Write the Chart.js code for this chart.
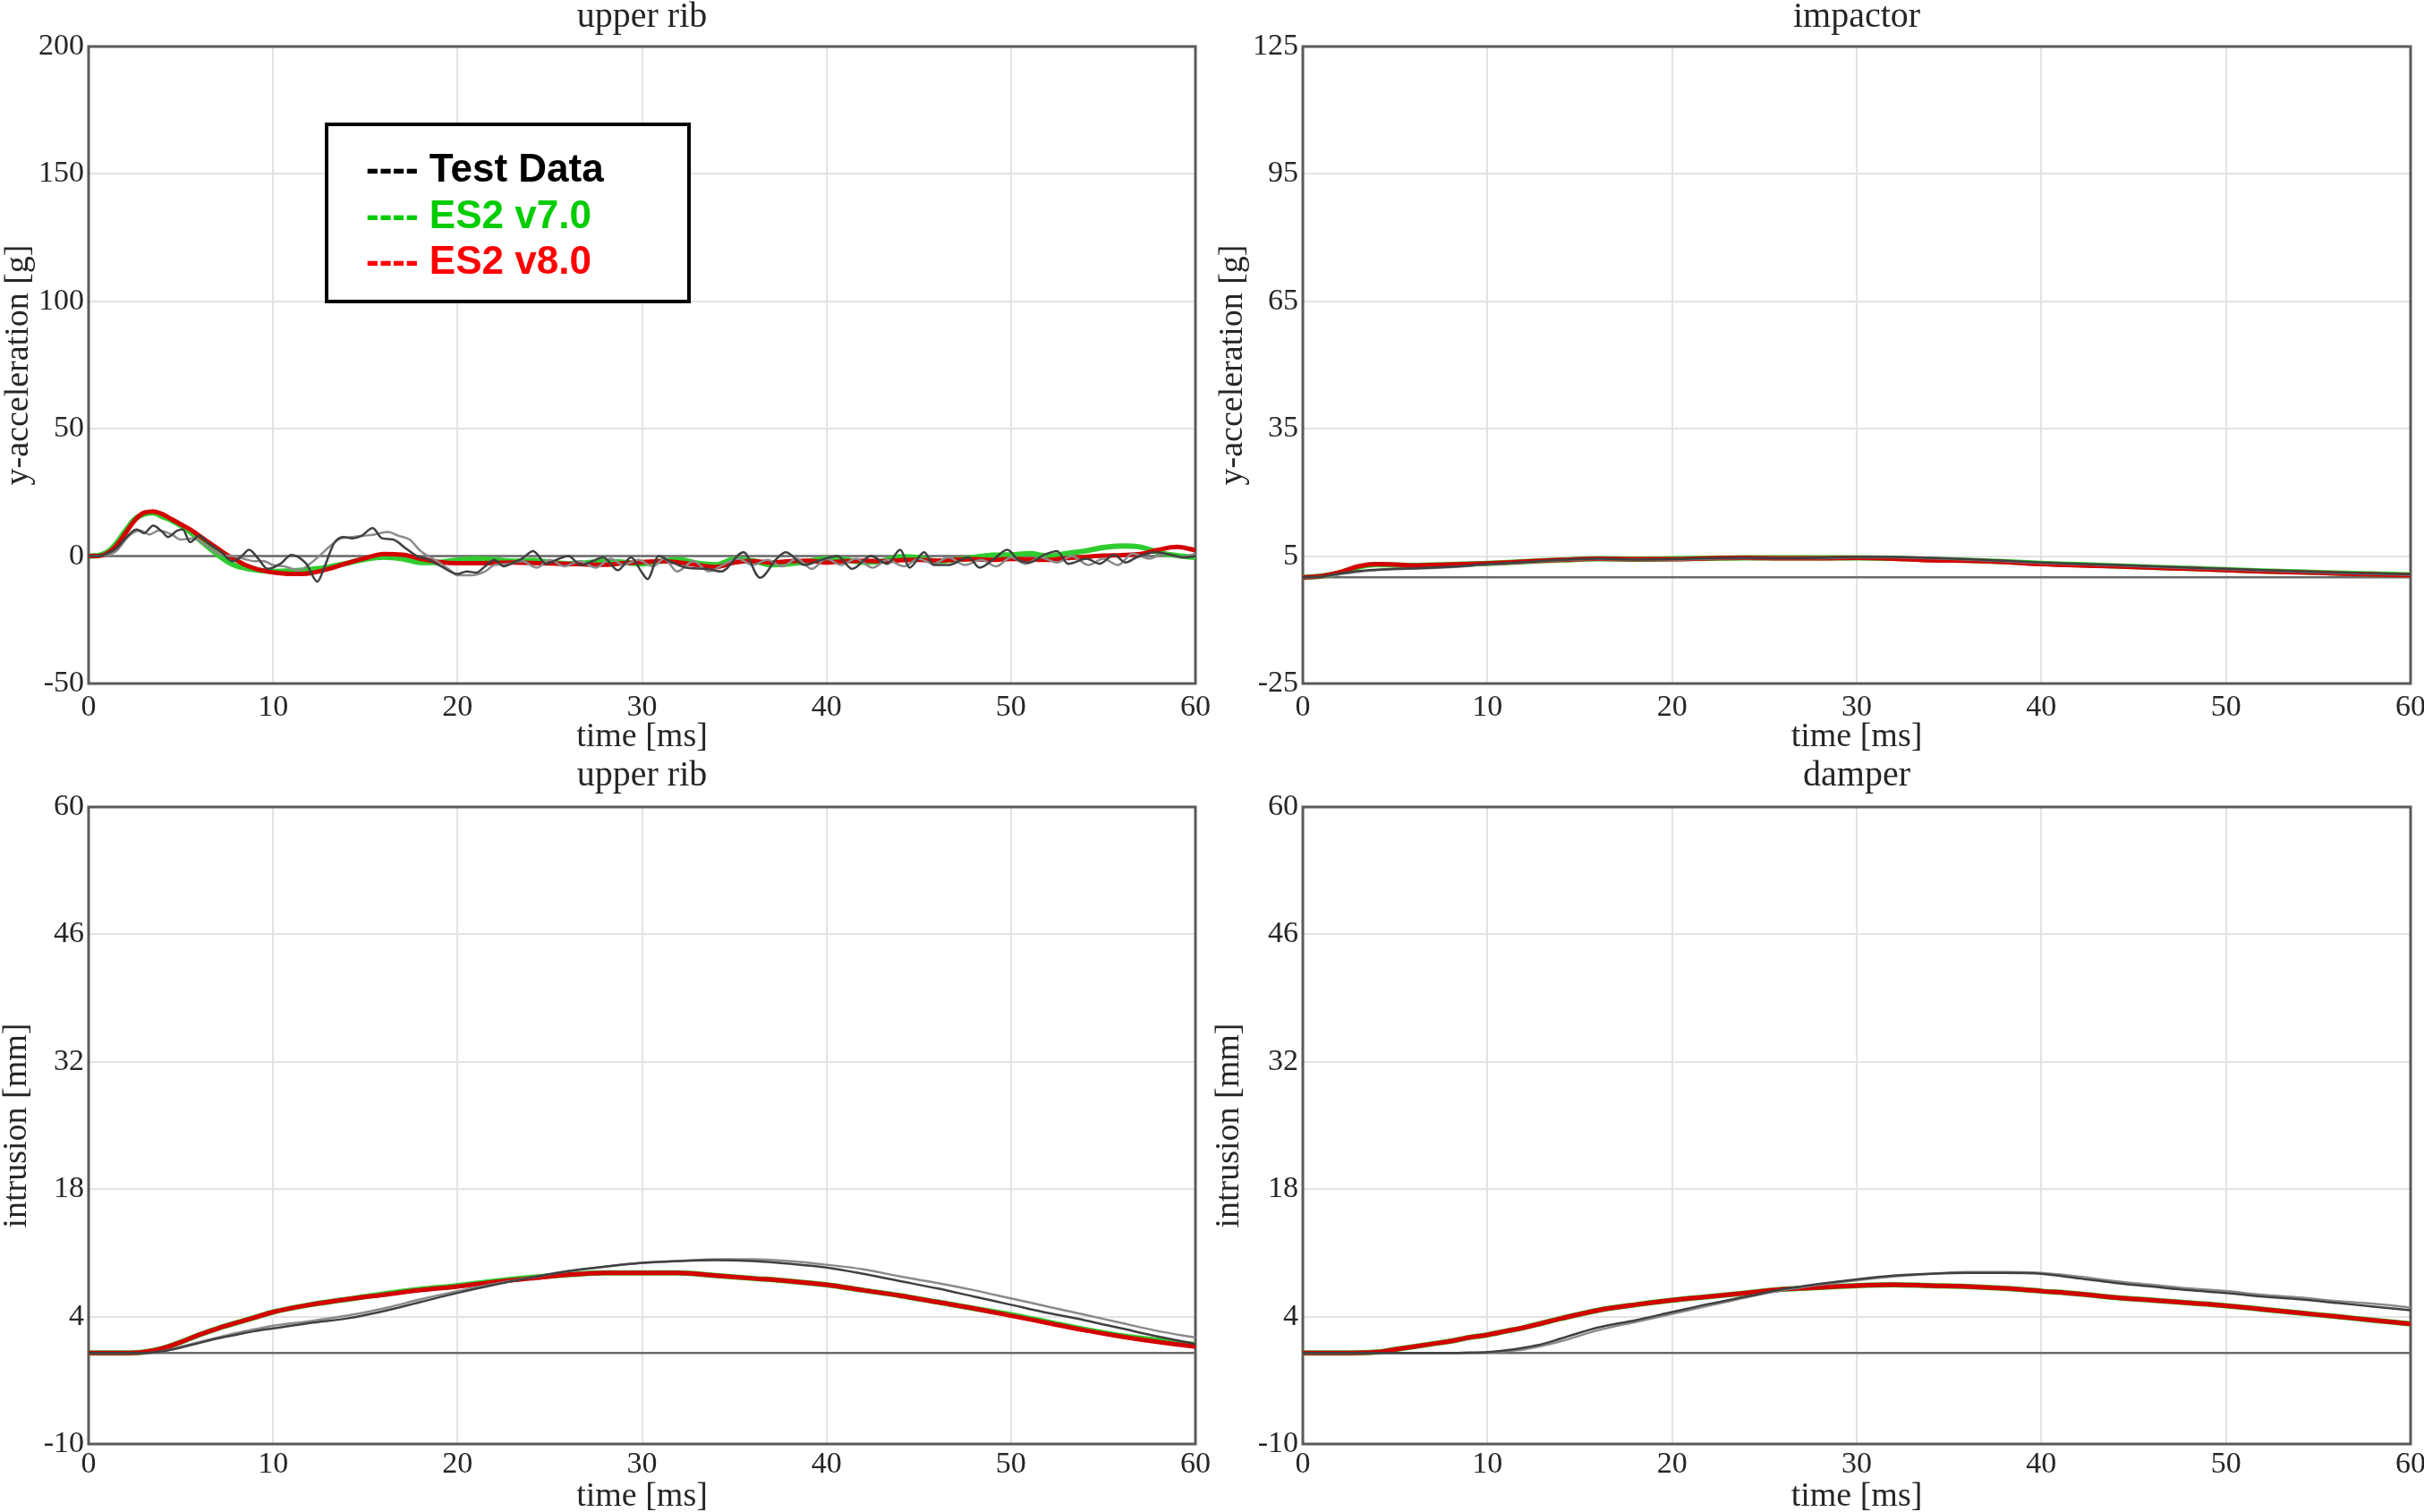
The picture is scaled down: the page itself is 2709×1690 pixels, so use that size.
<!DOCTYPE html>
<html>
<head>
<meta charset="utf-8">
<script src="https://cdn.jsdelivr.net/npm/chart.js@4.4.1/dist/chart.umd.min.js"></script>
<style>
html, body { margin: 0; padding: 0; background: #ffffff; }
body { width: 2709px; height: 1690px; position: relative; overflow: hidden; }
canvas { position: absolute; }
</style>
</head>
<body>
<canvas id="pTL" width="1354" height="845" style="left:0px;top:0px"></canvas>
<canvas id="pTR" width="1355" height="845" style="left:1354px;top:0px"></canvas>
<canvas id="pBL" width="1354" height="845" style="left:0px;top:845px"></canvas>
<canvas id="pBR" width="1355" height="845" style="left:1354px;top:845px"></canvas>
<script>
// ---------------- DATA ----------------
const legendNames = ['Test Data', 'ES2 v7.0', 'ES2 v8.0'];
const xTicks = [0, 10, 20, 30, 40, 50, 60];
const yTicksAcc = [-50, 0, 50, 100, 150, 200];
const yTicksImp = [-25, 5, 35, 65, 95, 125];
const yTicksIntr = [-10, 4, 18, 32, 46, 60];
const zeroT = [0, 60];
const zeroV = [0, 0];

// upper rib acceleration (top-left)
const ribAccT = [0,0.5,1,1.5,2,2.5,3,3.5,4,4.5,5,5.5,6,6.5,7,7.5,8,8.5,9,9.5,10,11,12,13,14,15,16,17,18,19,20,21,22,23,24,25,26,27,28,29,30,31,32,33,34,35,36,37,38,39,40,41,42,43,44,45,46,47,48,49,50,51,52,53,54,55,56,57,58,59,60];
const ribAccV8 = [0,0,1,4,9,14,17,17.5,16.5,14.5,12.5,10.5,8,5.5,3,0.5,-1.5,-3.5,-4.8,-5.7,-6.4,-7,-6.7,-5,-2.8,-0.8,0.8,0.6,-1,-2.3,-2.8,-2.8,-2.7,-2.5,-2.7,-2.9,-3,-3.3,-3.4,-2.8,-2.3,-2,-2.5,-3.5,-4.3,-2.5,-2,-2.5,-2,-1.8,-2.5,-2,-1.8,-2,-1.6,-1.5,-1.8,-1.4,-1.2,-1.5,-1.1,-1.3,-1.5,-0.8,-0.3,0.2,0.4,0.8,2.5,3.6,2.3];
const ribAccV7 = [0,0.2,1.5,5,10,14.5,16.5,17,15.5,14,12,9.5,6.5,3.5,0.5,-2,-3.8,-4.7,-5.3,-5.8,-6,-5.8,-5.2,-4.3,-2.8,-1.2,-0.4,-1,-2.5,-2.4,-1.5,-1,-1.4,-2,-1.6,-2.4,-3,-2.6,-2,-2.4,-3,-2,-1.4,-2.8,-3.4,-1.2,-1.8,-3.4,-3,-2,-1,-1.4,-2.4,-2,-0.2,-0.6,-2,-1.4,-0.5,0.4,0.5,1,0,1,2,3.4,4,3.6,1.5,0.2,-0.5];
const ribAccTest1T = [0,0.5,1,1.5,2,2.6,3,3.5,4,4.3,4.8,5.1,5.5,6,6.5,7.2,7.8,8.3,8.7,9.2,9.7,10.4,11,11.8,12.4,12.8,13.3,13.8,14.3,14.8,15.4,15.9,16.5,17.2,17.8,18.3,19.1,20,20.5,21,21.5,22,22.5,22.9,23.5,24.1,24.8,25.5,26,26.7,27.3,27.9,28.7,29.4,30,30.3,30.9,31.5,32.4,33.5,34.3,35.5,36.4,37.3,37.8,38.8,39.7,40.6,41.4,42.4,43.3,44,44.5,45.3,45.8,46.6,47.7,48.3,49.1,49.8,50.4,51,51.8,52.5,53.1,54.1,54.8,55.6,56.2,56.8,57.8,58.7,59.4,60];
const ribAccTest1V = [0,0,1,3,7,10.5,9,12,9.5,7.5,10,10.5,5.5,8,5,1.5,-2,0,2.5,-1,-5,-3,0.5,-3,-10,-4,5,7.5,7,8,11,7,6.5,3,0,-1,-4,-7,-6,-6.5,-4,-1.5,-4,-3,-1,2,-3,-1,0,-3.5,-2,-0.5,-5.5,-0.5,-6.5,-9,0,-2,-4.5,-5,-6,1.5,-8.5,-1,1.5,-3.5,-1.5,0,-5,0,-3,2.5,-4.5,1.5,-3.5,-3.5,-0.5,-4.5,-1,2.5,-1.5,-2.5,0.5,2,-3,-1,-3,0.5,-2.5,-0.5,1.5,0.5,-0.5,0];
const ribAccTest2T = [0,1,1.5,2.2,2.8,3.3,3.8,4.5,5,5.7,6.3,7.2,7.8,8.4,9,9.5,10,10.6,11.4,12,12.5,13.1,13.7,14.3,14.9,15.5,16.2,16.8,17.4,18,18.9,19.5,20,20.8,21.5,22,22.8,23.5,24.3,25,25.8,26.6,27.5,28.3,29,29.8,30.6,31.2,31.9,32.8,33.6,34.5,35.2,36,36.8,37.6,38.4,39.2,40,40.8,41.6,42.5,43.3,44.2,45,45.8,46.6,47.5,48.4,49.2,50,50.8,51.6,52.5,53.3,54.2,55,55.8,56.6,57.5,58.3,59.2,60];
const ribAccTest2V = [0,0.5,2,8,10,8.5,10,8.5,6.5,7,4.5,0.5,0,-1,-2,-2,-3.5,-4,-5.5,-3,0,4,7,7.5,8,8.5,9.5,8,6.5,2,-2,-5,-7.5,-7.5,-6,-3.5,-3,-2,-4.5,-1.5,-4,-2,-4.5,-1,-3.5,-1.5,-4,-1,-6,-2,-6,-3,-1,-3.5,-1.5,-4,-1,-5,-1,-3.5,-1,-4.5,-1.5,-4,-1,-3,-0.5,-3.5,-1.5,-4,-0.5,-3,-0.5,-2.5,0,-3.5,-1,-3.5,1,-1,1,-0.5,1];

// impactor acceleration (top-right)
const impT = [0,1,2,3,4,5,6,8,10,12,14,16,18,20,22,24,26,28,30,32,34,36,38,40,42,44,46,48,50,52,54,56,58,60];
const impV8 = [0,0.3,1.2,2.6,3.1,3.0,2.8,3.0,3.3,3.7,4.1,4.4,4.3,4.3,4.5,4.6,4.5,4.5,4.6,4.4,4.0,3.9,3.6,3.1,2.8,2.6,2.3,2.0,1.7,1.4,1.2,0.9,0.7,0.5];
const impV7 = [0,0.3,1.1,2.4,3.0,2.9,2.8,3.0,3.3,3.7,4.1,4.4,4.3,4.4,4.5,4.6,4.6,4.6,4.6,4.5,4.2,4.0,3.7,3.3,3.0,2.7,2.4,2.1,1.8,1.5,1.3,1.0,0.8,0.6];
const impTest1V = [0,0.2,0.9,1.5,1.8,2.0,2.1,2.5,3.1,3.6,4.1,4.4,4.2,4.3,4.5,4.6,4.5,4.6,4.8,4.8,4.6,4.3,3.9,3.5,3.2,2.9,2.6,2.3,2.0,1.7,1.4,1.1,0.9,0.7];
const impTest2V = [0,0.1,0.7,1.3,1.7,1.9,2.0,2.4,3.0,3.5,4.0,4.3,4.2,4.2,4.4,4.5,4.5,4.5,4.7,4.7,4.5,4.2,3.8,3.4,3.1,2.8,2.5,2.2,1.9,1.6,1.3,1.0,0.8,0.6];

// upper rib intrusion (bottom-left)
const ribIntT = [0,2,3,4,5,6,7,8,9,10,12,14,16,18,20,22,24,26,28,30,32,34,36,38,40,42,44,46,48,50,52,54,56,58,60];
const ribIntV8 = [0,0,0.1,0.5,1.2,2.0,2.7,3.3,3.9,4.5,5.3,5.9,6.4,6.9,7.3,7.8,8.2,8.6,8.8,8.8,8.8,8.5,8.2,7.9,7.5,6.9,6.3,5.6,4.9,4.1,3.3,2.5,1.8,1.2,0.7];
const ribIntV7 = [0,0,0.1,0.5,1.2,2.0,2.7,3.3,3.9,4.5,5.3,5.9,6.5,7.0,7.4,7.9,8.3,8.6,8.8,8.8,8.8,8.5,8.2,7.9,7.5,6.9,6.3,5.6,4.9,4.2,3.4,2.6,1.9,1.4,0.9];
const ribIntTest1V = [0,0,0,0.2,0.6,1.1,1.6,2.0,2.4,2.7,3.3,3.8,4.6,5.6,6.6,7.5,8.3,9.0,9.5,9.9,10.1,10.2,10.1,9.8,9.4,8.7,7.9,7.1,6.2,5.3,4.4,3.6,2.7,1.8,1.0];
const ribIntTest2V = [0,0,0,0.2,0.7,1.2,1.7,2.2,2.6,3.0,3.5,4.1,4.9,5.9,6.8,7.6,8.3,9.0,9.5,9.9,10.1,10.3,10.3,10.1,9.7,9.2,8.4,7.7,6.9,6.0,5.1,4.2,3.3,2.4,1.7];

// damper intrusion (bottom-right)
const dampT = [0,2,4,5,6,7,8,9,10,11,12,13,14,16,18,20,22,24,26,28,30,32,34,36,38,40,42,44,46,48,50,52,54,56,58,60];
const dampV8 = [0,0,0.1,0.4,0.7,1.0,1.3,1.7,2.0,2.4,2.8,3.3,3.8,4.7,5.3,5.8,6.2,6.6,7.0,7.2,7.4,7.5,7.4,7.3,7.1,6.8,6.5,6.1,5.8,5.5,5.2,4.8,4.4,4.0,3.6,3.2];
const dampV7 = [0,0,0.1,0.4,0.7,1.0,1.3,1.7,2.0,2.4,2.8,3.3,3.8,4.7,5.3,5.8,6.2,6.6,7.0,7.2,7.4,7.5,7.4,7.3,7.1,6.8,6.5,6.1,5.8,5.5,5.2,4.8,4.4,4.0,3.6,3.2];
const dampTest1V = [0,0,0,0,0,0,0,0.05,0.1,0.3,0.6,1.0,1.6,2.8,3.6,4.5,5.4,6.2,7.0,7.6,8.1,8.5,8.7,8.8,8.8,8.7,8.2,7.7,7.3,6.9,6.6,6.2,5.9,5.5,5.1,4.7];
const dampTest2V = [0,0,0,0,0,0,0,0,0.05,0.2,0.4,0.8,1.3,2.5,3.4,4.3,5.2,6.1,6.9,7.5,8.0,8.4,8.7,8.9,8.9,8.8,8.4,7.9,7.5,7.1,6.8,6.4,6.1,5.7,5.4,5.0];

// ---------------- STYLE / BUILD ----------------
const SERIF = "'Liberation Serif', 'Times New Roman', serif";
const SANS = "'Liberation Sans', Arial, sans-serif";
const legendColors = ['#000000', '#00cc00', '#ff0000'];
const STY = {
  test1: { color: '#404040', width: 2.5 },
  test2: { color: '#8a8a8a', width: 2.5 },
  v8:    { color: '#d40000', width: 5 },
  v7:    { color: '#2fcc2f', width: 6 },
  zero:  { color: '#6a6a6a', width: 2.5 }
};

function pts(t, v) { return t.map((x, i) => ({ x: x, y: v[i] })); }

function ds(label, t, v, s) {
  return {
    label: label, data: pts(t, v), borderColor: s.color, backgroundColor: s.color,
    borderWidth: s.width, pointRadius: 0, pointHoverRadius: 0, fill: false,
    cubicInterpolationMode: 'monotone'
  };
}

const framePlugin = {
  id: 'frame',
  beforeDatasetsDraw(chart) {
    const a = chart.chartArea, ctx = chart.ctx;
    ctx.save();
    ctx.strokeStyle = '#5a5a5a';
    ctx.lineWidth = 3;
    ctx.strokeRect(a.left, a.top, a.right - a.left, a.bottom - a.top);
    ctx.restore();
  }
};

const boxLegendPlugin = {
  id: 'boxLegend',
  afterDraw(chart, args, opts) {
    if (!opts || !opts.show) return;
    const ctx = chart.ctx;
    ctx.save();
    ctx.fillStyle = '#ffffff';
    ctx.fillRect(365, 139, 405, 198);
    ctx.lineWidth = 4;
    ctx.strokeStyle = '#000000';
    ctx.strokeRect(365, 139, 405, 198);
    ctx.font = 'bold 44px ' + SANS;
    ctx.textBaseline = 'alphabetic';
    ctx.textAlign = 'left';
    legendNames.forEach((n, i) => {
      ctx.fillStyle = legendColors[i];
      ctx.fillText('---- ' + n, 409, 203 + i * 51.5);
    });
    ctx.restore();
  }
};

function makePanel(id, P) {
  const setTicks = (arr) => (s) => { s.ticks = arr.map(v => ({ value: v })); };
  new Chart(document.getElementById(id), {
    type: 'line',
    data: { datasets: P.datasets },
    plugins: [framePlugin, boxLegendPlugin],
    options: {
      responsive: false,
      animation: false,
      events: [],
      layout: { padding: { left: 0, right: P.padR, top: 0, bottom: 0 } },
      plugins: {
        legend: { display: false },
        tooltip: { enabled: false },
        title: { display: false },
        boxLegend: { show: !!P.legend }
      },
      scales: {
        x: {
          type: 'linear', position: 'bottom', min: 0, max: 60,
          afterBuildTicks: setTicks(xTicks),
          afterFit: (s) => { s.height = P.xH; s.paddingLeft = 0; s.paddingRight = 0; },
          ticks: { font: { family: SERIF, size: 34 }, color: '#262626', padding: P.xTickPad, maxRotation: 0, autoSkip: false },
          grid: { color: '#e3e3e3', lineWidth: 2, drawTicks: false },
          border: { display: false },
          title: { display: true, text: 'time [ms]', color: '#262626',
                   font: { family: SERIF, size: 38, lineHeight: 0.9 }, padding: { top: 0, bottom: P.xTitlePad } }
        },
        x2: {
          type: 'linear', position: 'top', min: 0, max: 60,
          afterFit: (s) => { s.height = P.top; s.paddingLeft = 0; s.paddingRight = 0; },
          ticks: { display: false },
          grid: { display: false, drawTicks: false },
          border: { display: false },
          title: { display: true, text: P.title, color: '#262626',
                   font: { family: SERIF, size: 40, lineHeight: 0.8 }, padding: { top: P.titlePad, bottom: 0 } }
        },
        y: {
          type: 'linear', position: 'left', min: P.yTicks[0], max: P.yTicks[P.yTicks.length - 1],
          afterBuildTicks: setTicks(P.yTicks),
          afterFit: (s) => { s.width = P.yW; s.paddingTop = 0; s.paddingBottom = 0; },
          ticks: { font: { family: SERIF, size: 34 }, color: '#262626', padding: 5, autoSkip: false },
          grid: { color: '#e3e3e3', lineWidth: 2, drawTicks: false },
          border: { display: false },
          title: { display: true, text: P.yTitle, color: '#262626',
                   font: { family: SERIF, size: 38, lineHeight: 1 }, padding: { top: P.yTitlePad, bottom: 0 } }
        }
      }
    }
  });
}

makePanel('pTL', {
  title: 'upper rib', yTitle: 'y-acceleration [g]', yTicks: yTicksAcc, legend: true,
  yW: 99, padR: 18, top: 52, xH: 81, yTitlePad: 2.5, xTitlePad: 3.9, xTickPad: 7, titlePad: 3.4,
  datasets: [
    ds('Test Data', ribAccTest1T, ribAccTest1V, STY.test1),
    ds('Test Data', ribAccTest2T, ribAccTest2V, STY.test2),
    ds('ES2 v8.0', ribAccT, ribAccV8, STY.v8),
    ds('ES2 v7.0', ribAccT, ribAccV7, STY.v7),
    ds('zero', zeroT, zeroV, STY.zero)
  ]
});

makePanel('pTR', {
  title: 'impactor', yTitle: 'y-acceleration [g]', yTicks: yTicksImp, legend: false,
  yW: 102, padR: 15, top: 52, xH: 81, yTitlePad: 5.5, xTitlePad: 3.9, xTickPad: 7, titlePad: 3.4,
  datasets: [
    ds('Test Data', impT, impTest1V, STY.test1),
    ds('Test Data', impT, impTest2V, STY.test2),
    ds('ES2 v8.0', impT, impV8, STY.v8),
    ds('ES2 v7.0', impT, impV7, STY.v7),
    ds('zero', zeroT, zeroV, STY.zero)
  ]
});

makePanel('pBL', {
  title: 'upper rib', yTitle: 'intrusion [mm]', yTicks: yTicksIntr, legend: false,
  yW: 99, padR: 18, top: 57, xH: 76, yTitlePad: 0, xTitlePad: 0, xTickPad: 3, titlePad: 6,
  datasets: [
    ds('Test Data', ribIntT, ribIntTest1V, STY.test1),
    ds('Test Data', ribIntT, ribIntTest2V, STY.test2),
    ds('ES2 v8.0', ribIntT, ribIntV8, STY.v8),
    ds('ES2 v7.0', ribIntT, ribIntV7, STY.v7),
    ds('zero', zeroT, zeroV, STY.zero)
  ]
});

makePanel('pBR', {
  title: 'damper', yTitle: 'intrusion [mm]', yTicks: yTicksIntr, legend: false,
  yW: 102, padR: 15, top: 57, xH: 76, yTitlePad: 1.5, xTitlePad: 0, xTickPad: 3, titlePad: 6,
  datasets: [
    ds('Test Data', dampT, dampTest1V, STY.test1),
    ds('Test Data', dampT, dampTest2V, STY.test2),
    ds('ES2 v8.0', dampT, dampV8, STY.v8),
    ds('ES2 v7.0', dampT, dampV7, STY.v7),
    ds('zero', zeroT, zeroV, STY.zero)
  ]
});
</script>
</body>
</html>
